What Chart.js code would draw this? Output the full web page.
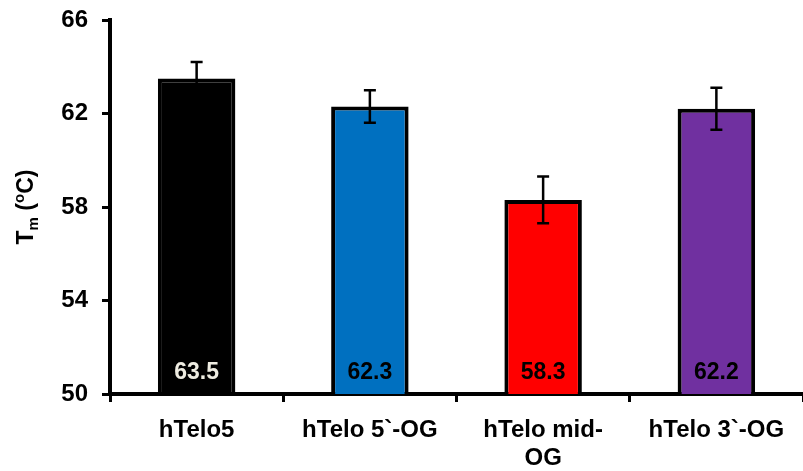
<!DOCTYPE html>
<html>
<head>
<meta charset="utf-8">
<script src="https://cdn.jsdelivr.net/npm/chart.js@4.4.1/dist/chart.umd.min.js"></script>
<style>
  html, body { margin: 0; padding: 0; background: #fff; }
  #wrap { width: 803px; height: 471px; }
</style>
</head>
<body>
<div id="wrap"><canvas id="tmChart" width="803" height="471"></canvas></div>
<script>
const categories = ['hTelo5', 'hTelo 5`-OG', ['hTelo mid-', 'OG'], 'hTelo 3`-OG'];
const tmValues = [63.5, 62.3, 58.3, 62.2];
const tmErrors = [0.7, 0.7, 1.0, 0.9];
const barColors = ['#000000', '#0070C0', '#FF0000', '#7030A0'];
const labelColors = ['#EEECE1', '#000000', '#000000', '#000000'];

const FONT = '"Liberation Sans", Arial, sans-serif';

// error bars drawn from the data arrays through the y scale
const errorBars = {
  id: 'errorBars',
  afterDatasetsDraw(chart) {
    const { ctx, scales: { y } } = chart;
    const meta = chart.getDatasetMeta(0);
    ctx.save();
    ctx.strokeStyle = '#000';
    ctx.lineWidth = 2.5;
    meta.data.forEach((bar, i) => {
      const top = y.getPixelForValue(tmValues[i] + tmErrors[i]);
      const bot = y.getPixelForValue(tmValues[i] - tmErrors[i]);
      const x = bar.x;
      ctx.beginPath();
      ctx.moveTo(x, top); ctx.lineTo(x, bot);
      ctx.moveTo(x - 6, top); ctx.lineTo(x + 6, top);
      ctx.moveTo(x - 6, bot); ctx.lineTo(x + 6, bot);
      ctx.stroke();
    });
    ctx.restore();
  }
};

// value labels at the foot of each bar
const valueLabels = {
  id: 'valueLabels',
  afterDatasetsDraw(chart) {
    const { ctx, scales: { y } } = chart;
    const meta = chart.getDatasetMeta(0);
    ctx.save();
    ctx.font = 'bold 23px ' + FONT;
    ctx.textAlign = 'center';
    ctx.textBaseline = 'alphabetic';
    meta.data.forEach((bar, i) => {
      ctx.fillStyle = labelColors[i];
      ctx.fillText(tmValues[i].toFixed(1), bar.x, y.getPixelForValue(50) - 15);
    });
    ctx.restore();
  }
};

// y axis title with subscript m and superscript o
const yTitle = {
  id: 'yTitle',
  afterDraw(chart) {
    const { ctx, chartArea } = chart;
    const big = 'bold 23px ' + FONT;
    const small = 'bold 15px ' + FONT;
    const parts = [
      { t: 'T', f: big, dy: 0 },
      { t: 'm', f: small, dy: 5 },
      { t: ' (', f: big, dy: 0 },
      { t: 'o', f: small, dy: -9 },
      { t: 'C)', f: big, dy: 0 }
    ];
    let total = 0;
    parts.forEach(p => { ctx.font = p.f; p.w = ctx.measureText(p.t).width; total += p.w; });
    ctx.save();
    ctx.translate(33, (chartArea.top + chartArea.bottom) / 2);
    ctx.rotate(-Math.PI / 2);
    ctx.fillStyle = '#000';
    ctx.textBaseline = 'alphabetic';
    ctx.textAlign = 'left';
    let x = -total / 2;
    parts.forEach(p => {
      ctx.font = p.f;
      ctx.fillText(p.t, x, p.dy);
      x += p.w;
    });
    ctx.restore();
  }
};

new Chart(document.getElementById('tmChart').getContext('2d'), {
  type: 'bar',
  data: {
    labels: categories,
    datasets: [{
      data: tmValues,
      backgroundColor: barColors,
      borderColor: '#000',
      borderWidth: 4,
      borderSkipped: false,
      categoryPercentage: 0.86,
      barPercentage: 0.52
    }]
  },
  options: {
    responsive: false,
    animation: false,
    layout: { padding: { top: 20, left: 0, right: 0, bottom: 0 } },
    plugins: { legend: { display: false }, tooltip: { enabled: false } },
    scales: {
      x: {
        afterFit(scale) {
          scale.height = 77;
          scale.paddingLeft = 0;
          scale.paddingRight = 0;
        },
        grid: {
          offset: true,
          drawOnChartArea: false,
          drawTicks: true,
          tickLength: 8,
          tickWidth: 3,
          color: '#000'
        },
        border: { color: '#000', width: 4 },
        ticks: {
          color: '#000',
          font: { family: FONT, size: 24, weight: 'bold', lineHeight: 1.15 },
          padding: 15,
          maxRotation: 0,
          autoSkip: false
        }
      },
      y: {
        min: 50,
        max: 66,
        afterFit(scale) {
          scale.width = 110;
          scale.paddingTop = 0;
          scale.paddingBottom = 0;
        },
        grid: {
          drawOnChartArea: false,
          drawTicks: true,
          tickLength: 8,
          tickWidth: 3,
          color: '#000'
        },
        border: { color: '#000', width: 4 },
        ticks: {
          stepSize: 4,
          color: '#000',
          font: { family: FONT, size: 24, weight: 'bold' },
          padding: 14
        }
      }
    }
  },
  plugins: [errorBars, valueLabels, yTitle]
});
</script>
</body>
</html>
